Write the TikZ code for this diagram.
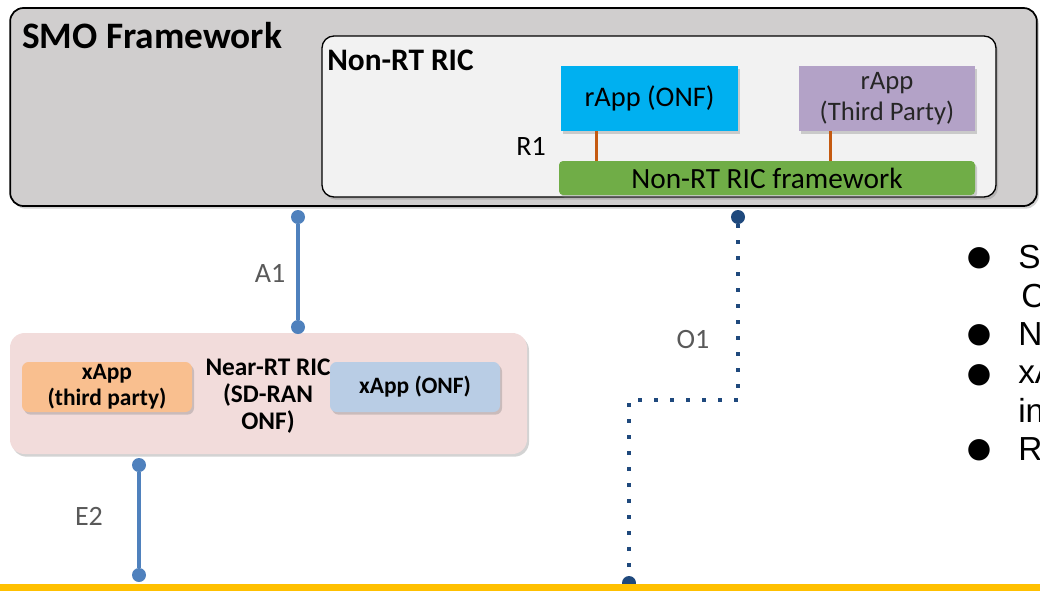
\documentclass[tikz,border=0pt]{standalone}
\usepackage{fontspec}
\setmainfont{Carlito}
\newfontfamily\listfont{Liberation Sans}
\newfontfamily\symfont{DejaVu Sans}
\usepackage{tikz}
\usetikzlibrary{calc,positioning,shadows}
\definecolor{smogray}{HTML}{D0CECE}
\definecolor{ricgray}{HTML}{F2F2F2}
\definecolor{onfcyan}{HTML}{00B0F0}
\definecolor{tplilac}{HTML}{B3A2C7}
\definecolor{fwgreen}{HTML}{70AD47}
\definecolor{r1orange}{HTML}{C55A11}
\definecolor{nearpink}{HTML}{F2DCDB}
\definecolor{xtporange}{HTML}{F9BF8F}
\definecolor{xonfblue}{HTML}{B9CDE5}
\definecolor{ifblue}{HTML}{4F81BD}
\definecolor{o1blue}{HTML}{1F497D}
\definecolor{labelgray}{HTML}{595959}
\definecolor{busyellow}{HTML}{FFC000}
\tikzset{softshadow/.style={drop shadow={opacity=.35,shadow xshift=1.5pt,shadow yshift=-2pt}},
panel/.style={draw=black,line width=1.3pt,rounded corners=10pt,inner sep=0pt,softshadow}}

\begin{document}
\begin{tikzpicture}[x=0.75pt,y=-0.75pt]

\tikzset{appbox/.style={inner sep=0pt,align=center,softshadow},
iface/.style={line width=2.8pt,ifblue},
ifdot/.style={circle,fill=ifblue,inner sep=0pt,minimum size=10.5pt},
o1dot/.style={circle,fill=o1blue,inner sep=0pt,minimum size=10.5pt},
iflabel/.style={text=labelgray,font=\fontsize{21}{25}\selectfont}}

\clip (0,0) rectangle (1040,590);

% Boxes
\node[panel,fill=smogray,minimum width=770pt,minimum height=148.5pt] (smo) at (523.5,107) {};
\node[anchor=base west,inner sep=0pt,font=\bfseries\fontsize{28}{33}\selectfont] (smolabel) at (22,48) {SMO Framework};
\node[panel,fill=ricgray,line width=1pt,rounded corners=9pt,minimum width=505.5pt,minimum height=120.75pt] (nonrt) at (659,116.5) {};
\node[anchor=base west,inner sep=0pt,font=\bfseries\fontsize{23.5}{28}\selectfont] (nonrtlabel) at (327,70) {Non-RT RIC};
\node[appbox,fill=onfcyan,minimum width=132.75pt,minimum height=48.75pt,font=\fontsize{21.3}{25}\selectfont] (rapponf) at (649.5,98.5) {rApp (ONF)};
\node[appbox,fill=tplilac,minimum width=132pt,minimum height=48.75pt,font=\fontsize{20}{23}\selectfont,text=black!85] (rapptp) at (887,98.5) {rApp\\(Third Party)};
\node[appbox,fill=fwgreen,rounded corners=3pt,minimum width=312pt,minimum height=25.5pt,font=\fontsize{22}{26}\selectfont] (nonrtfw) at (767,178) {Non-RT RIC framework};

\node[inner sep=0pt,fill=nearpink,rounded corners=11pt,softshadow,minimum width=387.75pt,minimum height=90.75pt] (nearrt) at (268.5,393.5) {};
\node[appbox,fill=xtporange,rounded corners=5pt,minimum width=127.5pt,minimum height=37.5pt,font=\bfseries\fontsize{17.6}{19.5}\selectfont] (xapptp) at (107,387) {xApp\\(third party)};
\node[appbox,fill=xonfblue,rounded corners=5pt,minimum width=127.5pt,minimum height=37.5pt,font=\bfseries\fontsize{17.6}{20}\selectfont] (xapponf) at (415,387) {xApp (ONF)};
\node[align=center,inner sep=0pt,font=\bfseries\fontsize{19}{20.5}\selectfont] (nearlabel) at (268,396) {Near-RT RIC\\(SD-RAN\\ONF)};

% R1
\draw[r1orange,line width=2.2pt] (rapponf.south west) ++(36,0) coordinate (r1a) -- (r1a |- nonrtfw.north);
\draw[r1orange,line width=2.2pt] (rapptp.south west) ++(32,0) coordinate (r1b) -- (r1b |- nonrtfw.north);
\node[anchor=base,font=\fontsize{21}{25}\selectfont] (r1label) at (531,155) {R1};

% Interfaces
\node[ifdot] (a1top) at (298,217) {};
\node[ifdot] (a1bot) at (298,327) {};
\node[ifdot] (e2top) at (139,465) {};
\node[ifdot] (e2bot) at (139,575) {};
\draw[iface] (a1top) -- (a1bot);
\draw[iface] (e2top) -- (e2bot);
\node[iflabel,anchor=base] (a1label) at (270,282) {A1};
\node[iflabel,anchor=base] (e2label) at (89,525) {E2};

\node[o1dot] (o1top) at (738,217) {};
\node[o1dot] (o1bot) at (629,583) {};
\coordinate (o1bend) at (629,400);
\draw[o1blue,line width=2.8pt,dash pattern=on 2.8pt off 9.2pt] (o1top) |- (o1bend) -- (o1bot);
\node[iflabel,anchor=base] (o1label) at (693,348) {O1};

% Bus
\fill[busyellow] (0,584) rectangle (1040,592);

% Bullets
\foreach \y in {258,335,375,450} \node[font=\symfont\fontsize{21}{24}\selectfont] at (979,\y) {●};
\foreach \t/\x/\y in {S/1018/268,C/1021/307,N/1018/345,xA/1018/383,in/1018/422,R/1018/460}
  \node[anchor=base west,inner sep=0pt,font=\listfont\fontsize{25}{29}\selectfont] at (\x,\y) {\t};

\end{tikzpicture}
\end{document}
